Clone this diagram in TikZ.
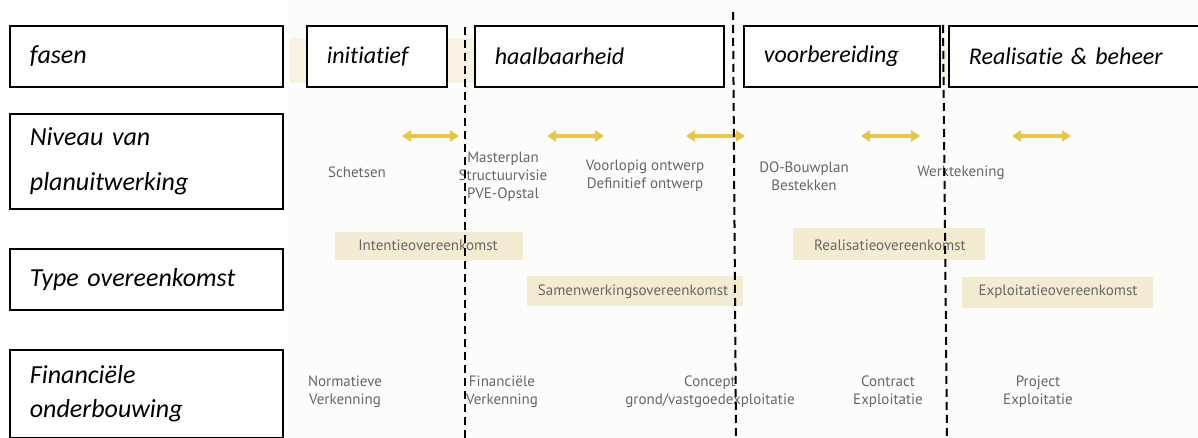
\documentclass[tikz,border=0pt]{standalone}
\usepackage{fontspec}
\usetikzlibrary{arrows.meta}
\newfontfamily\labelfont[Ligatures=NoCommon]{Carlito}
\newfontfamily\notefont{PT Sans}
\definecolor{gold}{HTML}{E8C54C}
\definecolor{band}{HTML}{F4ECD2}
\definecolor{faintband}{HTML}{F7F2E2}
\definecolor{ink}{HTML}{666666}
\definecolor{paper}{HTML}{FCFCFB}

\begin{document}
\begin{tikzpicture}[x=1pt,y=-1pt,
  box/.style={draw=black, line width=1.8pt, fill=white, rectangle,
    inner xsep=20pt, inner ysep=0pt, align=left, anchor=north west,
    font=\labelfont\itshape\fontsize{24}{29}\selectfont},
  rowbox/.style={box, minimum width=273pt, text width=233pt,
    font=\labelfont\itshape\fontsize{26}{31}\selectfont},
  note/.style={font=\notefont\fontsize{15}{18}\selectfont, text=ink,
    align=center, inner sep=0pt},
  tag/.style={fill=band, inner sep=0pt, anchor=north west},
  phaseline/.style={draw=black, line width=2pt, dash pattern=on 8pt off 5pt},
  span/.style={draw=gold, line width=3.5pt,
    {Triangle[length=9pt,width=11pt]}-{Triangle[length=9pt,width=11pt]}}
]
\useasboundingbox (0,0) rectangle (1198,438);
\clip (0,0) rectangle (1198,438);
\fill[white] (0,0) rectangle (1198,438);
\fill[paper] (288,0) rectangle (1198,438);

% coloured bands behind the agreements
\node[tag, fill=faintband, minimum width=184pt, minimum height=45pt] (strip1) at (290,38) {};
\node[tag, fill=faintband, minimum width=9pt, minimum height=40pt] (strip2) at (939,40) {};
\node[tag, minimum width=188pt, minimum height=28pt] (bIntentie) at (335,232) {};
\node[tag, minimum width=216pt, minimum height=30pt] (bSamen) at (527,276) {};
\node[tag, minimum width=192pt, minimum height=32pt] (bRealis) at (793,228) {};
\node[tag, minimum width=191pt, minimum height=31pt] (bExpl) at (962,277) {};

\node[note] (tIntentie) at (428,245) {Intentieovereenkomst};
\node[note] (tSamen) at (633,292) {Samenwerkingsovereenkomst};
\node[note] (tRealis) at (890,245) {Realisatieovereenkomst};
\node[note] (tExpl) at (1058,292) {Exploitatieovereenkomst};

% level of plan detail
\node[note] (n1) at (357,172) {Schetsen};
\node[note] (n2) at (503,177) {Masterplan\\Structuurvisie\\PVE-Opstal};
\node[note] (n3) at (645,176) {Voorlopig ontwerp\\Definitief ontwerp};
\node[note] (n4) at (804,176) {DO-Bouwplan\\Bestekken};
\node[note] (n5) at (961,173) {Werktekening};

% financial basis
\node[note] (f1) at (345,392) {Normatieve\\Verkenning};
\node[note] (f2) at (502,392) {Financiële\\Verkenning};
\node[note] (f3) at (710,392) {Concept\\grond/vastgoedexploitatie};
\node[note] (f4) at (888,392) {Contract\\Exploitatie};
\node[note] (f5) at (1038,392) {Project\\Exploitatie};

% transition arrows
\coordinate (a1l) at (402,136); \coordinate (a1r) at (459,136);
\coordinate (a2l) at (547,136); \coordinate (a2r) at (604,136);
\coordinate (a3l) at (686,136); \coordinate (a3r) at (745,136);
\coordinate (a4l) at (861,136); \coordinate (a4r) at (920,136);
\coordinate (a5l) at (1012,136); \coordinate (a5r) at (1071,136);
\draw[span] (a1l) -- (a1r);
\draw[span] (a2l) -- (a2r);
\draw[span] (a3l) -- (a3r);
\draw[span] (a4l) -- (a4r);
\draw[span] (a5l) -- (a5r);

% row headings
\node[rowbox, minimum height=61pt] (fasen) at (9,25) {fasen};
\node[rowbox, minimum height=95pt,
  font=\labelfont\itshape\fontsize{26}{45}\selectfont] (niveau) at (9,113) {Niveau van\\planuitwerking};
\node[rowbox, minimum height=61pt] (type) at (9,248) {Type overeenkomst};
\node[rowbox, minimum height=88pt,
  font=\labelfont\itshape\fontsize{26}{34}\selectfont] (fin) at (9,349) {Financiële\\onderbouwing};

% phases
\node[box, minimum width=140pt, minimum height=61pt, text width=100pt] (ini) at (306,25) {initiatief};
\node[box, minimum width=249pt, minimum height=61pt, text width=209pt, inner xsep=16pt] (haal) at (474,25) {haalbaarheid};
\node[box, minimum width=196pt, minimum height=61pt, text width=156pt] (voor) at (743,25) {voorbereiding};
\node[box, minimum width=262pt, minimum height=61pt, text width=222pt] (real) at (948,25) {Realisatie \& beheer};

% phase boundaries
\coordinate (d1t) at (465,27); \coordinate (d1b) at (465,440);
\coordinate (d2t) at (733,12); \coordinate (d2b) at (736,440);
\coordinate (d3t) at (943,25); \coordinate (d3b) at (947,440);
\draw[phaseline] (d1t) -- (d1b);
\draw[phaseline] (d2t) -- (d2b);
\draw[phaseline] (d3t) -- (d3b);
\end{tikzpicture}
\end{document}
